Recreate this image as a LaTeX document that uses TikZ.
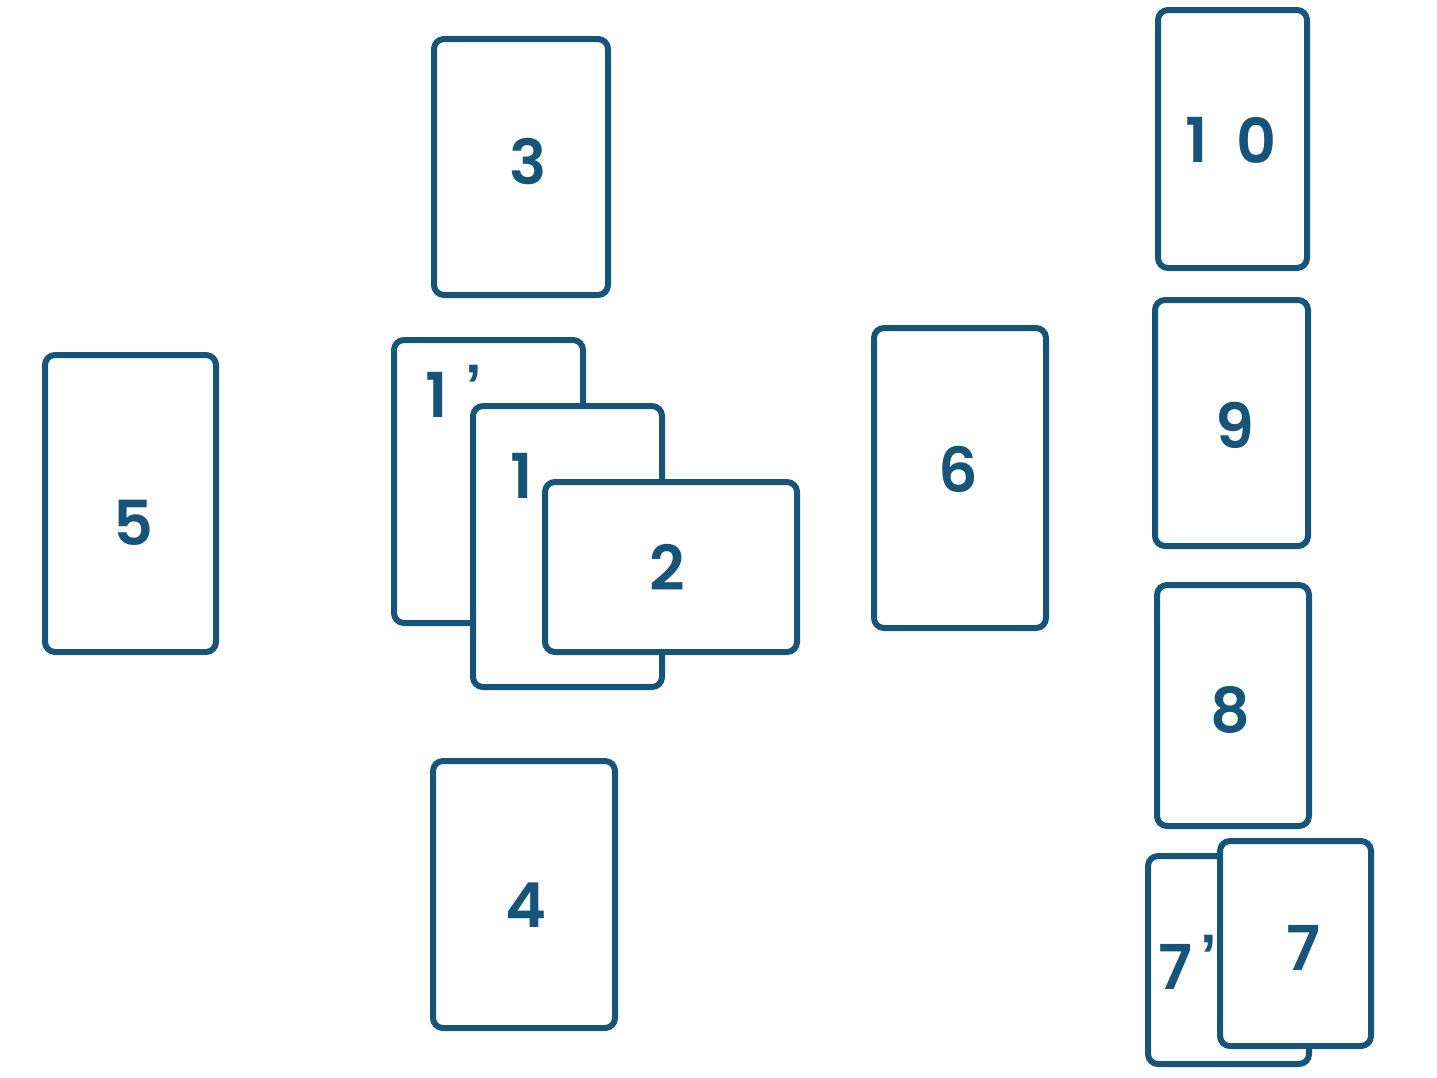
\documentclass[tikz,border=0pt]{standalone}
\usepackage{fontspec}
\newfontfamily\numfont{Poppins}[UprightFont=* SemiBold, BoldFont=* SemiBold]
\newfontfamily\quotefont{Liberation Sans}
\definecolor{cardblue}{HTML}{175479}
\begin{document}
\begin{tikzpicture}[x=1pt,y=-1pt,
  card/.style={draw=cardblue, line width=6pt, rounded corners=10pt, fill=white, rectangle, inner sep=0pt, outer sep=0pt},
  num/.style={text=cardblue, font=\numfont\fontsize{62}{62}\selectfont, inner sep=0pt, anchor=center},
  quote/.style={text=cardblue, font=\quotefont\bfseries\fontsize{60}{60}\selectfont, inner sep=0pt, anchor=center}]
\useasboundingbox (0,0) rectangle (1437,1077);
\node[card, minimum width=174pt, minimum height=256pt] (c3) at (521,167) {};
\node[num] (t3) at (528,162) {3};
\node[card, minimum width=171pt, minimum height=297pt] (c5) at (130.5,503.5) {};
\node[num] (t5) at (133,523) {5};
\node[card, minimum width=189pt, minimum height=283pt] (c1p) at (488.5,481.5) {};
\node[num] (t1p) at (437,395) {1};
\node[quote] (t1pp) at (474,386) {’};
\node[card, minimum width=189pt, minimum height=281pt] (c1) at (567.5,546.5) {};
\node[num] (t1) at (522,476) {1};
\node[card, minimum width=252pt, minimum height=170pt] (c2) at (671,567) {};
\node[num] (t2) at (667,567) {2};
\node[card, minimum width=182pt, minimum height=267pt] (c4) at (524,894.5) {};
\node[num] (t4) at (526,905) {4};
\node[card, minimum width=172pt, minimum height=300pt] (c6) at (960,478) {};
\node[num] (t6) at (958,469) {6};
\node[card, minimum width=149pt, minimum height=258pt] (c10) at (1232.5,139) {};
\node[num] (t10a) at (1197,140) {1};
\node[num] (t10b) at (1257,140) {0};
\node[card, minimum width=153pt, minimum height=246pt] (c9) at (1231.5,423) {};
\node[num] (t9) at (1235,425) {9};
\node[card, minimum width=152pt, minimum height=241pt] (c8) at (1233,705.5) {};
\node[num] (t8) at (1230,710) {8};
\node[card, minimum width=161pt, minimum height=208pt] (c7p) at (1228.5,960) {};
\node[num] (t7p) at (1175,967) {7};
\node[quote] (t7pp) at (1209,956) {’};
\node[card, minimum width=151pt, minimum height=205pt] (c7) at (1295.5,943.5) {};
\node[num] (t7) at (1303,948) {7};
\end{tikzpicture}
\end{document}
